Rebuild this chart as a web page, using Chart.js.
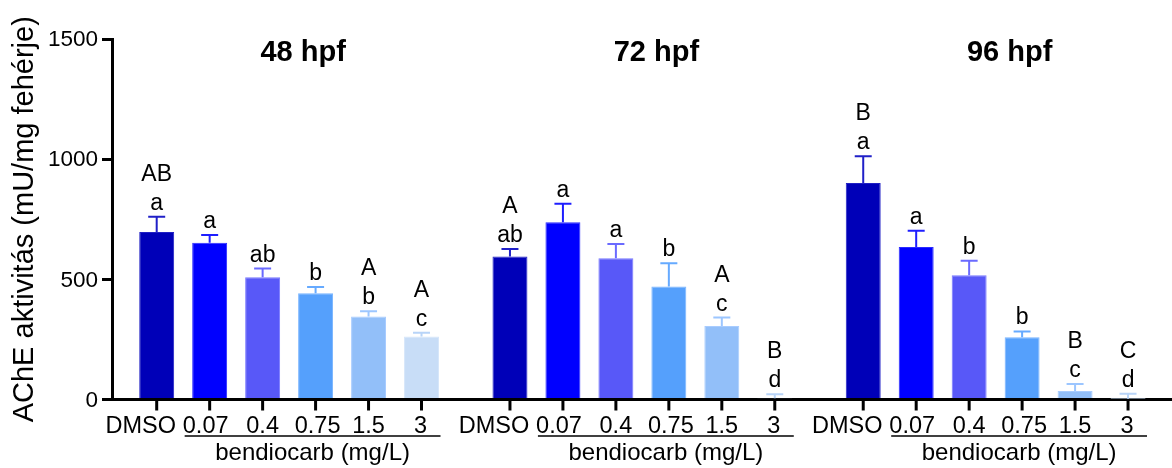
<!DOCTYPE html>
<html>
<head>
<meta charset="utf-8">
<script src="https://cdn.jsdelivr.net/npm/chart.js@4.4.0/dist/chart.umd.min.js"></script>
<style>
  html, body { margin: 0; padding: 0; background: #fff; }
  #wrap { width: 1172px; height: 468px; }
</style>
</head>
<body>
<div id="wrap"><canvas id="ache" width="1172" height="468"></canvas></div>
<script>
// AChE activity by bendiocarb concentration, three time points

const categories = ['DMSO', '0.07', '0.4', '0.75', '1.5', '3'];
const groups = ['48 hpf', '72 hpf', '96 hpf'];
const yTicks = [0, 500, 1000, 1500];

const means48 = [697, 652, 509, 442, 345, 262];
const errs48 = [63, 32, 36, 26, 22, 16];
const means72 = [595, 737, 588, 470, 306, 5];
const errs72 = [31, 78, 59, 97, 35, 17];
const means96 = [901, 635, 517, 259, 35, 3];
const errs96 = [111, 67, 60, 24, 30, 21];

// significance letters (upper row = between time points, lower row = within)
const upper48 = ['AB', '', '', '', 'A', 'A'];
const lower48 = ['a', 'a', 'ab', 'b', 'b', 'c'];
const upper72 = ['A', '', '', '', 'A', 'B'];
const lower72 = ['ab', 'a', 'a', 'b', 'c', 'd'];
const upper96 = ['B', '', '', '', 'B', 'C'];
const lower96 = ['a', 'a', 'b', 'b', 'c', 'd'];

const fills = ['#0000B8', '#0000FF', '#5858F8', '#55A0FC', '#92BFF9', '#C8DDF7'];
const edges = ['#2020C4', '#2A2AFF', '#7878FF', '#78B4FF', '#A8CCFF', '#D6E6FA'];
const errColors = ['#2020C8', '#1E1EFF', '#6A6AFF', '#66AAFF', '#9CC6FF', '#B8D4F8'];
const labelNudge = [-16, -4, 0, 2, 0, -1];   // horizontal shift of the x labels, px

const FONT = "'Liberation Sans', Arial, sans-serif";
const groupStart = [0, 6.67, 13.34];

const allMeans = [means48, means72, means96];
const allErrs = [errs48, errs72, errs96];
const allUpper = [upper48, upper72, upper96];
const allLower = [lower48, lower72, lower96];

const points = [];
const barFill = [];
const barEdge = [];
const tickPos = [];
groups.forEach((g, gi) => {
  categories.forEach((c, ci) => {
    const x = groupStart[gi] + ci;
    points.push({ x: x, y: allMeans[gi][ci], err: allErrs[gi][ci],
                  up: allUpper[gi][ci], low: allLower[gi][ci], ci: ci });
    barFill.push(fills[ci]);
    barEdge.push(edges[ci]);
    tickPos.push(x);
  });
});

// error bars, letters, axis labels, group titles
const annotate = {
  id: 'annotate',
  afterDatasetsDraw(chart) {
    const ctx = chart.ctx;
    const xs = chart.scales.x, ys = chart.scales.y;
    const base = ys.getPixelForValue(0);
    ctx.save();

    // y tick labels
    ctx.fillStyle = '#000';
    ctx.font = '22.5px ' + FONT;
    ctx.textAlign = 'right';
    ctx.textBaseline = 'middle';
    yTicks.forEach(v => ctx.fillText(String(v), 98, ys.getPixelForValue(v) + 1));

    points.forEach(p => {
      const px = xs.getPixelForValue(p.x);
      const top = ys.getPixelForValue(p.y);
      const cap = ys.getPixelForValue(p.y + p.err);
      ctx.strokeStyle = errColors[p.ci];
      ctx.lineWidth = 2;
      ctx.beginPath();
      ctx.moveTo(px, top);
      ctx.lineTo(px, cap);
      ctx.moveTo(px - 8.5, cap);
      ctx.lineTo(px + 8.5, cap);
      ctx.stroke();

      ctx.fillStyle = '#000';
      ctx.font = '23px ' + FONT;
      ctx.textAlign = 'center';
      ctx.textBaseline = 'alphabetic';
      ctx.fillText(p.low, px, cap - 7);
      if (p.up) ctx.fillText(p.up, px, cap - 36);

      // tick mark and category label
      ctx.strokeStyle = '#000';
      ctx.lineWidth = 3;
      ctx.beginPath();
      ctx.moveTo(px, base);
      ctx.lineTo(px, base + 11);
      ctx.stroke();
      ctx.font = '23.5px ' + FONT;
      ctx.fillText(categories[p.ci], px + labelNudge[p.ci], 433);
    });

    groups.forEach((g, gi) => {
      const first = xs.getPixelForValue(groupStart[gi]);
      const last = xs.getPixelForValue(groupStart[gi] + categories.length - 1);
      ctx.fillStyle = '#000';
      ctx.font = 'bold 29px ' + FONT;
      ctx.textAlign = 'center';
      ctx.textBaseline = 'middle';
      ctx.fillText(g, (first + last) / 2 + 14, 53);

      const x0 = xs.getPixelForValue(groupStart[gi] + 1) - 25;
      const x1 = last + 19;
      ctx.strokeStyle = '#000';
      ctx.lineWidth = 1.5;
      ctx.beginPath();
      ctx.moveTo(x0, 436);
      ctx.lineTo(x1, 436);
      ctx.stroke();
      ctx.font = '24px ' + FONT;
      ctx.textBaseline = 'alphabetic';
      ctx.fillText('bendiocarb (mg/L)', (x0 + x1) / 2, 460);
    });
    ctx.restore();
  }
};

new Chart(document.getElementById('ache'), {
  type: 'bar',
  data: {
    datasets: [{
      data: points,
      backgroundColor: barFill,
      borderColor: barEdge,
      borderWidth: 1,
      barPercentage: 0.66,
      categoryPercentage: 1
    }]
  },
  options: {
    responsive: false,
    animation: false,
    layout: { padding: { top: 39, left: 0, right: 0, bottom: 0 } },
    plugins: { legend: { display: false }, tooltip: { enabled: false } },
    scales: {
      x: {
        type: 'linear',
        offset: false,
        min: -0.844,
        max: 19.17,
        afterBuildTicks: s => { s.ticks = tickPos.map(v => ({ value: v })); },
        afterFit: s => { s.height = 68.5; },
        ticks: { display: false },
        grid: { display: false },
        border: { display: true, width: 3, color: '#000' }
      },
      y: {
        min: 0,
        max: 1500,
        afterBuildTicks: s => { s.ticks = yTicks.map(v => ({ value: v })); },
        afterFit: s => { s.width = 112; },
        ticks: { display: false },
        grid: { drawOnChartArea: false, drawTicks: true, tickLength: 10, lineWidth: 3, color: '#000' },
        border: { display: true, width: 3, color: '#000' },
        title: {
          display: true,
          text: 'AChE aktivitás (mU/mg fehérje)',
          color: '#000',
          font: { family: FONT, size: 29 },
          padding: { top: 8, bottom: 0 }
        }
      }
    }
  },
  plugins: [annotate]
});
</script>
</body>
</html>
